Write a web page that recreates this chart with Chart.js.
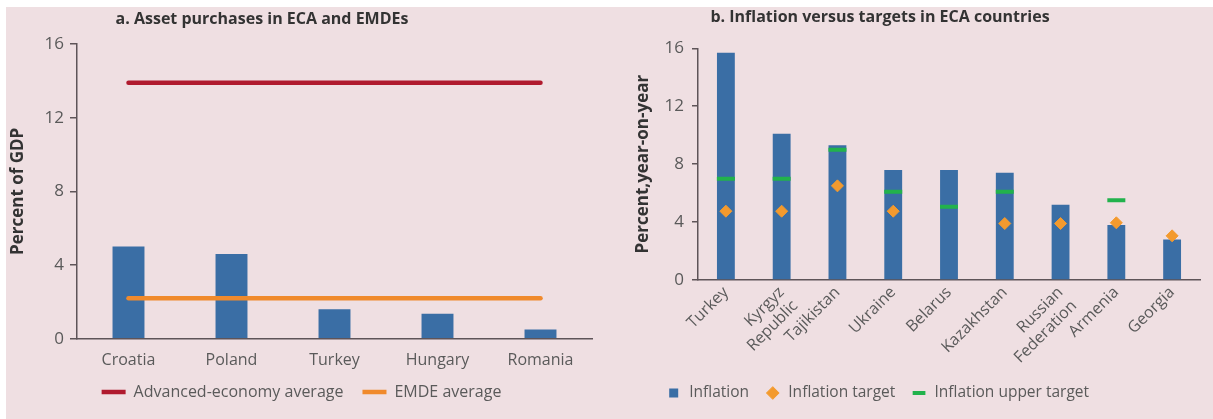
<!DOCTYPE html>
<html><head><meta charset="utf-8">
<script src="https://cdn.jsdelivr.net/npm/chart.js@4/dist/chart.umd.min.js"></script>
<style>
html,body{margin:0;padding:0;background:#ffffff;}
#wrap{position:relative;width:1213px;height:419px;overflow:hidden;}
#bg{position:absolute;left:6px;top:7px;right:0;bottom:0;background:#efdfe2;}
#ca{position:absolute;left:0;top:0;}
#cb{position:absolute;left:600px;top:0;}
</style></head><body>
<div id="wrap"><div id="bg"></div>
<canvas id="ca" width="600" height="419"></canvas>
<canvas id="cb" width="613" height="419"></canvas></div>
<script>
// ---- Panel a data ----
const catsA = ["Croatia", "Poland", "Turkey", "Hungary", "Romania"];
const assetPurchases = [5.0, 4.6, 1.6, 1.35, 0.5];
const advancedAvg = [13.9, 13.9, 13.9, 13.9, 13.9];
const emdeAvg = [2.2, 2.2, 2.2, 2.2, 2.2];
const ticksA = [0, 4, 8, 12, 16];

// ---- Panel b data ----
const catsB = ["Turkey", ["Kyrgyz", "Republic"], "Tajikistan", "Ukraine", "Belarus", "Kazakhstan", ["Russian", "Federation"], "Armenia", "Georgia"];
const inflation = [15.7, 10.1, 9.3, 7.6, 7.6, 7.4, 5.2, 3.8, 2.8];
const inflationTarget = [4.75, 4.75, 6.5, 4.75, null, 3.9, 3.9, 3.95, 3.05];
const inflationUpper = [7.0, 7.0, 9.0, 6.1, 5.05, 6.1, null, 5.5, null];
const ticksB = [0, 4, 8, 12, 16];

const FONT = "'Open Sans', 'DejaVu Sans', sans-serif";
const BLUE = '#3a6ea5', RED = '#b01a2e', ORANGE = '#f08a2c', DIAMOND = '#f39a2e', GREEN = '#22b24c';
const AXIS = '#5e5458', TICK = '#5a5a5a', TITLE = '#333333';
const H = 419;

Chart.defaults.font.family = FONT;

// moves title / legend boxes to given centre positions after layout
const placeBoxes = {
  id: 'placeBoxes',
  afterLayout(chart, args, opts) {
    const t = chart.titleBlock, l = chart.legend;
    if (t && opts.titleX != null) { const w = t.right - t.left; t.left = opts.titleX - w / 2; t.right = opts.titleX + w / 2; }
    if (l && opts.legendX != null) { const w = l.right - l.left; l.left = opts.legendX - w / 2; l.right = opts.legendX + w / 2; }
    if (l && opts.legendY != null) {
      const lo = l.options.labels, fs = lo.font.size;
      l.top = opts.legendY - lo.padding - fs / 2;
      l.bottom = l.top + 2 * lo.padding + fs + 10;
      l.height = l.bottom - l.top;
    }
  }
};

function fixedTicks(vals) {
  return function (scale) { scale.ticks = vals.map(v => ({ value: v })); };
}

// ---------- Panel a ----------
const bottomA = 338.7;
new Chart(document.getElementById('ca'), {
  type: 'bar',
  plugins: [placeBoxes],
  data: {
    labels: catsA,
    datasets: [
      { type: 'bar', label: 'Asset purchases', data: assetPurchases, backgroundColor: BLUE, borderWidth: 0,
        categoryPercentage: 1, barPercentage: 0.31, order: 3 },
      { type: 'line', label: 'Advanced-economy average', data: advancedAvg, borderColor: RED, backgroundColor: RED,
        borderWidth: 4.5, borderCapStyle: 'round', pointRadius: 0, pointStyle: 'line', order: 1 },
      { type: 'line', label: 'EMDE average', data: emdeAvg, borderColor: ORANGE, backgroundColor: ORANGE,
        borderWidth: 4.5, borderCapStyle: 'round', pointRadius: 0, pointStyle: 'line', order: 2 }
    ]
  },
  options: {
    responsive: false, animation: false,
    layout: { padding: { left: 0, right: 8, top: 0, bottom: 0 } },
    plugins: {
      tooltip: { enabled: false },
      placeBoxes: { titleX: 262, legendX: 301.5, legendY: 392 },
      title: { display: true, text: 'a. Asset purchases in ECA and EMDEs', color: TITLE,
        font: { size: 16, weight: 'bold' }, padding: { top: 9.4, bottom: 15.4 } },
      legend: { position: 'bottom', maxHeight: 1,
        labels: { usePointStyle: true, pointStyleWidth: 24, boxHeight: 10, color: TICK, font: { size: 16 }, padding: 19,
          sort: (a, b) => a.datasetIndex - b.datasetIndex,
          filter: (item) => item.datasetIndex > 0 } }
    },
    scales: {
      x: { grid: { display: true, drawOnChartArea: false, drawTicks: false, color: AXIS },
        border: { display: true, color: AXIS, width: 1.5 },
        ticks: { color: TICK, font: { size: 16 }, padding: 12 },
        afterFit(s) { s.height = Math.max(0, H - 1 - bottomA); } },
      y: { min: 0, max: 16, afterBuildTicks: fixedTicks(ticksA),
        grid: { display: true, drawOnChartArea: false, drawTicks: true, tickLength: 7, color: AXIS, lineWidth: 1.5 },
        border: { display: true, color: AXIS, width: 1.5 },
        ticks: { color: TICK, font: { size: 17 }, padding: 6 },
        title: { display: true, text: 'Percent of GDP', color: TITLE, font: { size: 17, weight: 'bold' }, padding: { top: 7.8, bottom: 0 } },
        afterFit(s) { s.width = 77; } }
    }
  }
});

// ---------- Panel b ----------
const bottomB = 280;
new Chart(document.getElementById('cb'), {
  type: 'bar',
  plugins: [placeBoxes],
  data: {
    labels: catsB,
    datasets: [
      { type: 'bar', label: 'Inflation', data: inflation, backgroundColor: BLUE, borderWidth: 0, pointStyle: 'rect',
        categoryPercentage: 1, barPercentage: 0.32, order: 3 },
      { type: 'line', label: 'Inflation target', data: inflationTarget, showLine: false,
        backgroundColor: DIAMOND, borderColor: DIAMOND, borderWidth: 1,
        pointStyle: 'rectRot', pointRadius: 6, pointBackgroundColor: DIAMOND, pointBorderColor: DIAMOND, pointBorderWidth: 1, order: 1 },
      { type: 'line', label: 'Inflation upper target', data: inflationUpper, showLine: false,
        backgroundColor: GREEN, borderColor: GREEN, borderWidth: 3,
        pointStyle: 'line', pointRadius: 9, pointBorderColor: GREEN, pointBorderWidth: 4, order: 2 }
    ]
  },
  options: {
    responsive: false, animation: false,
    layout: { padding: { left: 0, right: 2, top: 0, bottom: 0 } },
    plugins: {
      tooltip: { enabled: false },
      placeBoxes: { titleX: 280, legendX: 277.5, legendY: 393 },
      title: { display: true, text: 'b. Inflation versus targets in ECA countries', color: TITLE,
        font: { size: 16, weight: 'bold' }, padding: { top: 7.5, bottom: 21.6 } },
      legend: { position: 'bottom', maxHeight: 1,
        labels: { usePointStyle: true, boxHeight: 9, color: TICK, font: { size: 15.5 }, padding: 16,
          sort: (a, b) => a.datasetIndex - b.datasetIndex } }
    },
    scales: {
      x: { grid: { display: true, drawOnChartArea: false, drawTicks: false, color: AXIS },
        border: { display: true, color: AXIS, width: 1.5 },
        ticks: { color: TICK, font: { size: 16 }, padding: 3, minRotation: 45, maxRotation: 45, autoSkip: false },
        afterFit(s) { s.height = Math.max(0, H - 1 - bottomB); } },
      y: { min: 0, max: 16, afterBuildTicks: fixedTicks(ticksB),
        grid: { display: true, drawOnChartArea: false, drawTicks: true, tickLength: 6, color: AXIS, lineWidth: 1.5 },
        border: { display: true, color: AXIS, width: 1.5 },
        ticks: { color: TICK, font: { size: 17 }, padding: 8 },
        title: { display: true, text: 'Percent,year-on-year', color: TITLE, font: { size: 17, weight: 'bold' }, padding: { top: 32.8, bottom: 0 } },
        afterFit(s) { s.width = 98; } }
    }
  }
});
</script>
</body></html>
